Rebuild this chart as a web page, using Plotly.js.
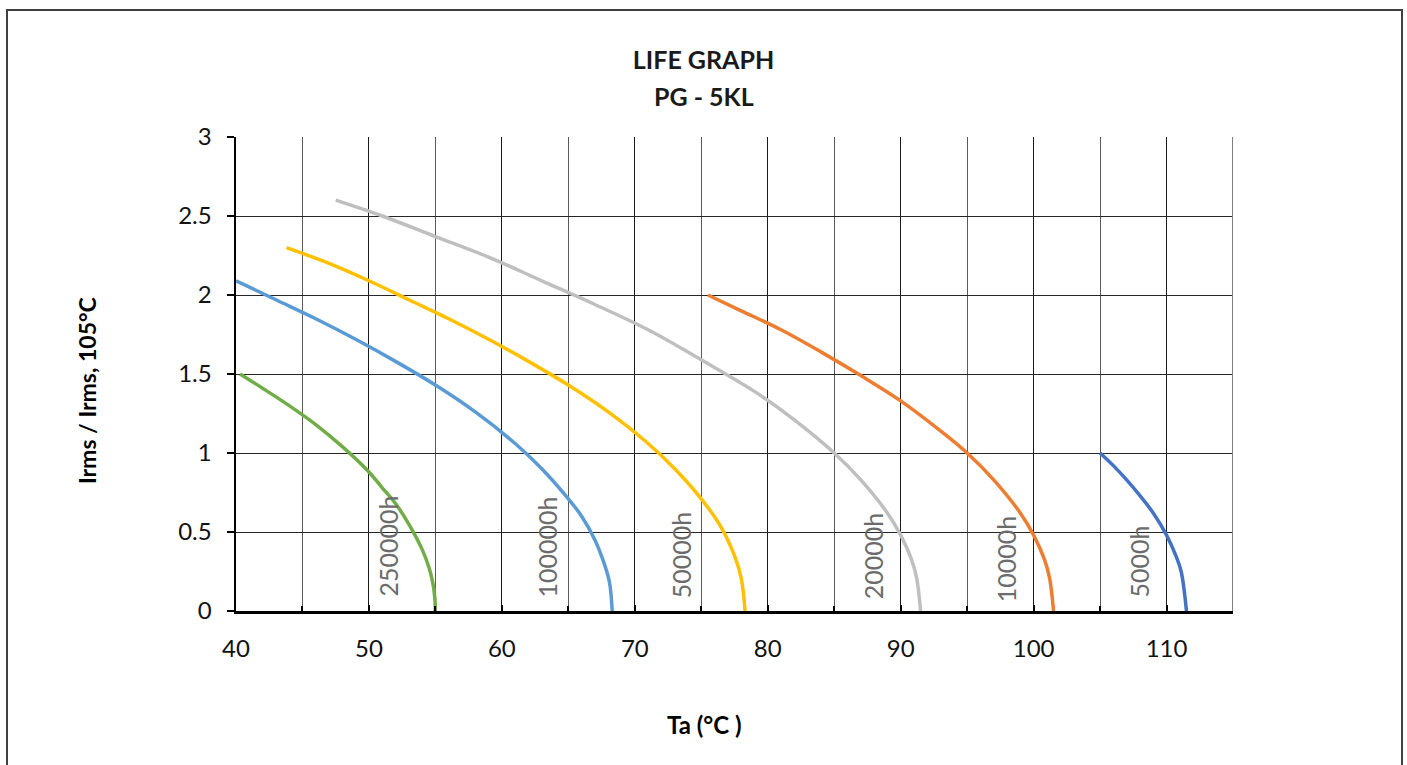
<!DOCTYPE html>
<html>
<head>
<meta charset="utf-8">
<script src="https://cdn.plot.ly/plotly-3.0.1.min.js"></script>
<style>
html,body{margin:0;padding:0;background:#fff;}
#chart{width:1407px;height:765px;}
</style>
</head>
<body>
<div id="chart"></div>
<script>
// Data
const seriesNames = ["250000h", "100000h", "50000h", "20000h", "10000h", "5000h"];
const colors = ["#70AD47", "#5B9BD5", "#FFC000", "#BFBFBF", "#ED7D31", "#4472C4"];

const x250000 = [40.3, 42, 44, 46, 48, 50, 51, 52, 53, 54, 54.5, 54.8, 54.95, 55];
const y250000 = [1.50, 1.41, 1.30, 1.18, 1.04, 0.88, 0.78, 0.68, 0.55, 0.39, 0.28, 0.18, 0.09, 0];

const x100000 = [40, 43, 46, 49, 52, 55, 58, 61, 63, 65, 66, 67, 67.7, 68.1, 68.3];
const y100000 = [2.09, 1.97, 1.85, 1.72, 1.58, 1.43, 1.26, 1.06, 0.90, 0.71, 0.60, 0.45, 0.30, 0.18, 0];

const x50000 = [43.8, 47, 50, 53, 56, 59, 62, 65, 68, 71, 73, 75, 76.5, 77.5, 78, 78.3];
const y50000 = [2.30, 2.20, 2.09, 1.97, 1.85, 1.72, 1.58, 1.43, 1.26, 1.06, 0.90, 0.71, 0.53, 0.35, 0.21, 0];

const x20000 = [47.5, 51, 55, 59, 63, 67, 71, 75, 79, 82, 85, 87, 89, 90, 90.8, 91.2, 91.5];
const y20000 = [2.60, 2.50, 2.37, 2.24, 2.09, 1.94, 1.78, 1.59, 1.39, 1.21, 1.00, 0.83, 0.62, 0.48, 0.33, 0.21, 0];

const x10000 = [75.5, 78, 81, 84, 87, 90, 93, 95, 97, 99, 100, 100.8, 101.2, 101.5];
const y10000 = [2.00, 1.90, 1.78, 1.64, 1.49, 1.33, 1.14, 1.00, 0.83, 0.62, 0.48, 0.33, 0.21, 0];

const x5000 = [105, 106, 107, 108, 109, 110, 110.7, 111.1, 111.5];
const y5000 = [1.00, 0.92, 0.83, 0.73, 0.62, 0.48, 0.35, 0.25, 0];

// label positions (x centre, bottom y)
const labelX = [51.4, 63.4, 73.5, 87.9, 97.9, 107.9];
const labelY = [0.08, 0.07, 0.07, 0.06, 0.04, 0.07];

const xs = [x250000, x100000, x50000, x20000, x10000, x5000];
const ys = [y250000, y100000, y50000, y20000, y10000, y5000];

const xTickVals = [40, 50, 60, 70, 80, 90, 100, 110];
const yTickVals = [0, 0.5, 1, 1.5, 2, 2.5, 3];

const FONT = "Lato, 'Open Sans', sans-serif";

const traces = xs.map((x, i) => ({
  type: "scatter",
  mode: "lines",
  name: seriesNames[i],
  x: x,
  y: ys[i],
  line: {color: colors[i], width: 3.5, shape: "spline", smoothing: 1},
  hoverinfo: "x+y+name",
  cliponaxis: false
}));

const annotations = seriesNames.map((n, i) => ({
  text: n,
  x: labelX[i], y: labelY[i],
  xref: "x", yref: "y",
  xanchor: "center", yanchor: "bottom",
  textangle: -90,
  showarrow: false,
  font: {family: FONT, size: 25, color: "#6b6b6b"}
}));

annotations.push({
  text: "<b>PG - 5KL</b>",
  xref: "paper", yref: "paper",
  x: 0.4694, y: 1.0865,
  xanchor: "center", yanchor: "middle",
  showarrow: false,
  font: {family: FONT, size: 25, color: "#1a1a1a"}
});
annotations.push({
  text: "<b>Ta (°C )</b>",
  xref: "paper", yref: "paper",
  x: 0.470, y: -0.2405,
  xanchor: "center", yanchor: "middle",
  showarrow: false,
  font: {family: FONT, size: 24, color: "#000"}
});
annotations.push({
  text: "<b>Irms / Irms, 105°C</b>",
  xref: "paper", yref: "paper",
  x: -0.1494, y: 0.464,
  xanchor: "center", yanchor: "middle",
  textangle: -90,
  showarrow: false,
  font: {family: FONT, size: 23, color: "#000"}
});

const layout = {
  width: 1407, height: 765,
  margin: {l: 236, r: 174, t: 137, b: 154},
  paper_bgcolor: "#fff",
  plot_bgcolor: "#fff",
  showlegend: false,
  font: {family: FONT, color: "#000"},
  title: {
    text: "<b>LIFE GRAPH</b>",
    font: {family: FONT, size: 25, color: "#1a1a1a"},
    x: 0.5, xref: "container", xanchor: "center",
    y: 1 - 60 / 765, yref: "container", yanchor: "middle"
  },
  xaxis: {
    range: [40, 115],
    tickvals: xTickVals,
    ticktext: xTickVals.map(String),
    showgrid: true, gridcolor: "#1a1a1a", gridwidth: 1,
    minor: {dtick: 5, tick0: 40, showgrid: true, gridcolor: "#5a5a5a", gridwidth: 1, ticks: "inside", ticklen: 5, tickcolor: "#000", tickwidth: 2},
    showline: true, linecolor: "#000", linewidth: 2.5,
    ticks: "inside", ticklen: 6, tickwidth: 2, tickcolor: "#000",
    ticklabelstandoff: 15,
    zeroline: false,
    tickfont: {family: FONT, size: 24, color: "#111"},
    title: {text: ""},
    fixedrange: true
  },
  yaxis: {
    range: [0, 3],
    tickvals: yTickVals,
    ticktext: yTickVals.map(String),
    showgrid: true, gridcolor: "#262626", gridwidth: 1,
    showline: true, linecolor: "#000", linewidth: 2.5,
    ticks: "outside", ticklen: 7, tickwidth: 2, tickcolor: "#000",
    ticklabelstandoff: 10,
    zeroline: false,
    tickfont: {family: FONT, size: 24, color: "#111"},
    title: {text: ""},
    fixedrange: true
  },
  shapes: [
    {type: "line", xref: "x", yref: "paper", x0: 115, x1: 115, y0: 0, y1: 1, line: {color: "#7f7f7f", width: 2}},
    {type: "rect", xref: "paper", yref: "paper",
     x0: (7 - 236) / 997, x1: (1402 - 236) / 997,
     y0: (611 - 820) / 474, y1: (611 - 10) / 474,
     line: {color: "#404040", width: 2}, fillcolor: "rgba(0,0,0,0)", layer: "below"}
  ],
  annotations: annotations
};

Plotly.newPlot("chart", traces, layout, {displayModeBar: false, staticPlot: true});
</script>
</body>
</html>
